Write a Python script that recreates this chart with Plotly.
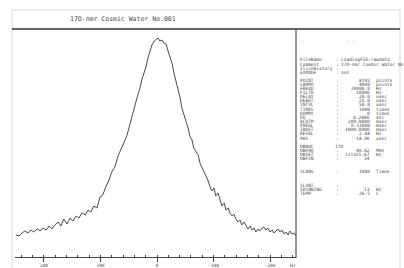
import plotly.graph_objects as go

# ---- data ----
freq_hz = [250,244,239,234,228,223,218,212,207,202,196,191,186,181,175,170,165,159,154,149,
           143,138,133,127,122,117,112,106,101,96,90,85,80,74,69,64,58,53,48,
           44,41,37,34,30,27,23,19,16,12,9,5,2,-2,-5,-9,-12,-16,-19,-23,-27,-30,-34,-37,
           -41,-44,-48,-51,-55,-58,-62,-65,-69,-73,-76,-80,-83,-87,-90,-94,-97,-101,-104,
           -108,-112,-115,-119,-122,-126,-129,-133,-136,-140,-143,-147,-150,-154,-158,-161,
           -165,-168,-172,-175,-179,-182,-186,-189,-193,-196,-200,-204,-207,-211,-214,-218,
           -221,-225,-228,-232,-235,-239,-242,-246]
intensity = [1,0,3,5,3,6,4,7,5,8,6,10,7,11,14,10,17,12,18,15,
             20,18,23,21,26,24,30,28,39,41,50,56,64,70,80,86,94,101,112,
             118,126,134,141,148,156,163,170,178,185,191,195,196,198,195,196,193,192,186,180,172,163,154,146,
             138,128,121,116,108,100,96,88,84,81,73,68,64,60,56,49,45,
             48,40,43,34,30,33,26,28,23,20,22,17,14,16,11,14,10,7,
             10,6,8,4,7,5,8,9,6,8,4,6,3,5,7,4,
             6,2,4,1,5,2,3,0]

x_ticks = [200, 100, 0, -100, -200]
x_tick_labels = ["200", "100", "0", "-100", "-200"]

title_text = "17O-nmr Cosmic Water No.001"
param_names = ["FileName", "Comment", "SliceHistory", "EXMODE",
               "POINT", "SAMPO", "FREQU", "FILTR", "DELAY", "DEADT", "INTVL", "TIMES",
               "DUMMY", "PD", "ACQTM", "PREDL", "IRDET", "RESOL", "PW1",
               "OBNUC", "OBFRQ", "OBSET", "OBFIN", "SCANS", "SLVNT", "SPINNING", "TEMP"]
param_values = ["LoadingFID.rawdata", "17O-nmr Cosmic Water No", "", "non",
                "8192", "4000", "20000.0", "10000", "20.0", "25.0", "50.0", "1000",
                "0", "0.2000", "200.0000", "0.51000", "1000.0000", "2.44", "14.00",
                "17O", "40.62", "111325.67", "34", "1000", "", "13", "26.5"]
param_units = ["", "", "", "",
               "points", "points", "Hz", "Hz", "usec", "usec", "usec", "times",
               "times", "sec", "msec", "msec", "msec", "Hz", "usec",
               "", "MHz", "Hz", "", "Times", "", "Hz", "C"]
param_rows_px = [60, 64, 68, 72,
                 80, 84.1, 88.3, 92.4, 96.6, 100.7, 104.8, 109, 113.1, 117.3, 121.4, 125.5, 129.7, 133.8, 138,
                 146, 150, 154, 158, 171, 185, 189, 193]

W, H = 404, 268
def px(x): return x / W
def py(y): return 1 - y / H

INK = "#4a4a4a"
MONO = "DejaVu Sans Mono"

fig = go.Figure()
fig.add_trace(go.Scatter(x=freq_hz, y=intensity, mode="lines",
                         line=dict(color="#4a4a4a", width=1), hoverinfo="skip"))

shapes = [
    dict(type="rect", xref="paper", yref="paper", x0=px(12), x1=px(400), y0=py(275), y1=py(10),
         line=dict(color="#d8d8d8", width=1)),
    dict(type="line", xref="paper", yref="paper", x0=px(12), x1=px(400), y0=py(29), y1=py(29),
         line=dict(color="#333333", width=1.5)),
    dict(type="line", xref="paper", yref="paper", x0=px(296), x1=px(296), y0=py(29), y1=py(258),
         line=dict(color="#333333", width=1)),
]

ann = [dict(text=title_text, x=px(123), y=py(19), xref="paper", yref="paper", showarrow=False,
            font=dict(family=MONO, size=6.5, color=INK), xanchor="center", yanchor="middle"),
       dict(text="Hz", x=px(293), y=py(265), xref="paper", yref="paper", showarrow=False,
            font=dict(family=MONO, size=4.5, color=INK), xanchor="center", yanchor="middle"),
       dict(text="-", x=px(299), y=py(41), xref="paper", yref="paper", showarrow=False,
            font=dict(family=MONO, size=4.5, color=INK), xanchor="left", yanchor="middle"),
       dict(text="- -", x=px(345), y=py(41), xref="paper", yref="paper", showarrow=False,
            font=dict(family=MONO, size=4.5, color=INK), xanchor="left", yanchor="middle")]

small = dict(family=MONO, size=4.5, color=INK)
for name, val, unit, ry in zip(param_names, param_values, param_units, param_rows_px):
    ann.append(dict(text=name, x=px(298), y=py(ry), xref="paper", yref="paper", showarrow=False,
                    font=small, xanchor="left", yanchor="middle"))
    if name != "OBNUC":
        ann.append(dict(text=":", x=px(334), y=py(ry), xref="paper", yref="paper", showarrow=False,
                        font=small, xanchor="left", yanchor="middle"))
    if not val:
        continue
    if unit == "" and name in ("FileName", "Comment", "EXMODE", "OBNUC"):
        xs = 333 if name == "OBNUC" else 339
        ann.append(dict(text=val, x=px(xs), y=py(ry), xref="paper", yref="paper", showarrow=False,
                        font=small, xanchor="left", yanchor="middle"))
    else:
        ann.append(dict(text=val, x=px(372), y=py(ry), xref="paper", yref="paper", showarrow=False,
                        font=small, xanchor="right", yanchor="middle"))
        if unit:
            ann.append(dict(text=unit, x=px(374), y=py(ry), xref="paper", yref="paper", showarrow=False,
                            font=small, xanchor="left", yanchor="middle"))

fig.update_layout(
    width=W, height=H, margin=dict(l=0, r=0, t=0, b=0),
    paper_bgcolor="white", plot_bgcolor="white", showlegend=False,
    shapes=shapes, annotations=ann,
    xaxis=dict(domain=[px(15), px(296)], range=[251.3, -246.0], showgrid=False, zeroline=False,
               showline=True, linecolor="#444444", linewidth=1,
               tickmode="array", tickvals=x_ticks, ticktext=x_tick_labels,
               ticks="outside", ticklen=4, tickcolor="#444444", tickwidth=1,
               tickfont=dict(family=MONO, size=4.5, color=INK),
               minor=dict(dtick=20, tick0=0, ticks="inside", ticklen=2, tickcolor="#444444", showgrid=False)),
    yaxis=dict(domain=[py(257), py(30)], range=[-21, 206], visible=False, showgrid=False, zeroline=False),
)

fig.write_html("out.html", config={"displayModeBar": False},
               post_script="document.body.style.margin='0';document.body.style.overflow='hidden';")
